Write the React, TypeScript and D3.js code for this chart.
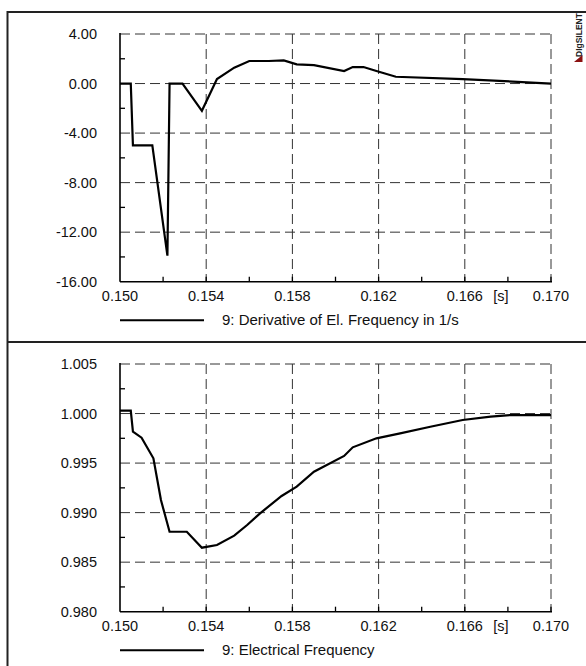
import React from "react";
import * as d3 from "d3";

// ---- data ----
const derivTime = [0.15, 0.1505, 0.1506, 0.1515, 0.1522, 0.1523, 0.1529, 0.1538, 0.1545, 0.1553, 0.156, 0.1569, 0.1576, 0.1582, 0.159, 0.1604, 0.1608, 0.1613, 0.1619, 0.1628, 0.1659, 0.17];
const derivValues = [0, 0, -5.0, -5.0, -13.9, 0, 0, -2.2, 0.36, 1.28, 1.82, 1.82, 1.87, 1.55, 1.49, 1.01, 1.33, 1.33, 1.01, 0.55, 0.36, 0.0];

const freqTime = [0.15, 0.1505, 0.1506, 0.151, 0.15155, 0.1519, 0.1523, 0.1531, 0.1538, 0.1545, 0.1553, 0.1559, 0.1565, 0.1575, 0.1582, 0.159, 0.1604, 0.1608, 0.1619, 0.163, 0.1644, 0.1659, 0.1672, 0.1681, 0.17];
const freqValues = [1.00029, 1.00029, 0.99817, 0.99756, 0.99548, 0.99127, 0.98807, 0.98807, 0.98646, 0.98673, 0.98767, 0.98875, 0.98993, 0.99168, 0.99262, 0.99413, 0.99572, 0.99659, 0.9975, 0.998, 0.99867, 0.99935, 0.99968, 0.99985, 0.99985];

const xMajorTicks = [0.15, 0.154, 0.158, 0.162, 0.166, 0.17];
const xMinorTicks = [0.152, 0.156, 0.16, 0.164, 0.168];
const derivYMajor = [-16, -12, -8, -4, 0, 4];
const derivYMinor = [-14, -10, -6, -2, 2];
const freqYMajor = [0.98, 0.985, 0.99, 0.995, 1.0, 1.005];
const freqYMinor = [0.9825, 0.9875, 0.9925, 0.9975, 1.0025];

const derivLegend = "9: Derivative of El. Frequency in 1/s";
const freqLegend = "9: Electrical Frequency";
const unitLabel = "[s]";

const W = 586;
const H = 666;
const FONT = "'Liberation Sans', Arial, sans-serif";

type PanelProps = {
  top: number;
  bottom: number;
  time: number[];
  values: number[];
  yMajor: number[];
  yMinor: number[];
  digits: number;
  legend: string;
};

function Panel({ top, bottom, time, values, yMajor, yMinor, digits, legend }: PanelProps) {
  const left = 120;
  const right = 551;
  const x = d3.scaleLinear().domain([0.15, 0.17]).range([left, right]);
  const y = d3.scaleLinear().domain([yMajor[0], yMajor[yMajor.length - 1]]).range([bottom, top]);
  const line = d3
    .line<number>()
    .x((_, i) => x(time[i]))
    .y((v) => y(v));
  const grid = "#333";
  const dash = "10,5";
  return (
    <g>
      {yMajor.slice(1).map((v) => (
        <line key={"hg" + v} x1={left} x2={right} y1={y(v)} y2={y(v)} stroke={grid} strokeWidth={1} strokeDasharray={dash} />
      ))}
      {xMajorTicks.slice(1).map((t) => (
        <line key={"vg" + t} x1={x(t)} x2={x(t)} y1={top} y2={bottom} stroke={grid} strokeWidth={1} strokeDasharray={dash} />
      ))}
      <line x1={left} x2={left} y1={top - 1} y2={bottom} stroke="#000" strokeWidth={1.6} />
      <line x1={left} x2={right + 1} y1={bottom} y2={bottom} stroke="#000" strokeWidth={1.6} />
      {[...xMinorTicks, ...xMajorTicks.slice(1)].map((t) => (
        <line key={"xt" + t} x1={x(t)} x2={x(t)} y1={bottom} y2={bottom - 5} stroke="#000" strokeWidth={1.3} />
      ))}
      {yMinor.map((v) => (
        <line key={"yt" + v} x1={left} x2={left + 5} y1={y(v)} y2={y(v)} stroke="#000" strokeWidth={1.3} />
      ))}
      <path d={line(values) || ""} fill="none" stroke="#000" strokeWidth={2.2} strokeLinejoin="miter" strokeMiterlimit={2} />
      {yMajor.map((v) => (
        <text key={"yl" + v} x={97} y={y(v) + 5} textAnchor="end" fontSize={14.5} fontFamily={FONT} fill="#111">
          {v.toFixed(digits)}
        </text>
      ))}
      {xMajorTicks.map((t) => (
        <text key={"xl" + t} x={x(t)} y={bottom + 19} textAnchor="middle" fontSize={14.5} fontFamily={FONT} fill="#111">
          {t.toFixed(3)}
        </text>
      ))}
      <text x={x(0.17) - 50} y={bottom + 19} textAnchor="middle" fontSize={14.5} fontFamily={FONT} fill="#111">
        {unitLabel}
      </text>
      <line x1={left} x2={204} y1={bottom + 38.5} y2={bottom + 38.5} stroke="#000" strokeWidth={2} />
      <text x={222} y={bottom + 43.5} fontSize={15} fontFamily={FONT} fill="#111">
        {legend}
      </text>
    </g>
  );
}

export default function App() {
  return (
    <svg width={W} height={H} style={{ position: "absolute", left: 0, top: 0, background: "#fff" }}>
      <rect x={0} y={0} width={W} height={H} fill="#fff" />
      <line x1={7.5} x2={W} y1={12} y2={12} stroke="#222" strokeWidth={2} />
      <line x1={7.5} x2={7.5} y1={11} y2={H} stroke="#222" strokeWidth={2} />
      <line x1={7.5} x2={W} y1={342} y2={342} stroke="#222" strokeWidth={2} />
      <Panel top={34} bottom={281.7} time={derivTime} values={derivValues} yMajor={derivYMajor} yMinor={derivYMinor} digits={2} legend={derivLegend} />
      <Panel top={364} bottom={611.7} time={freqTime} values={freqValues} yMajor={freqYMajor} yMinor={freqYMinor} digits={3} legend={freqLegend} />
      <text transform="translate(582,57) rotate(-90)" fontSize={8.5} fontWeight="bold" fontFamily={FONT} fill="#222">
        DIgSILENT
      </text>
      <polygon points="582.5,55 582.5,62 574,62" fill="#8b1010" />
    </svg>
  );
}
